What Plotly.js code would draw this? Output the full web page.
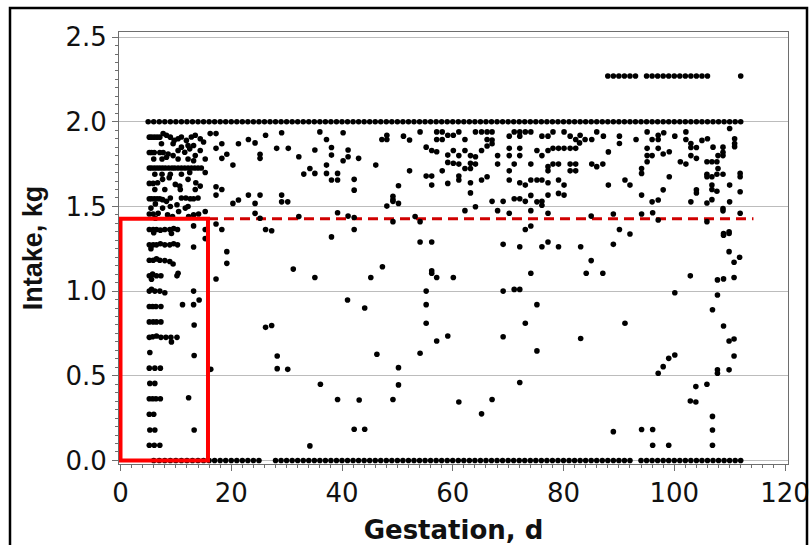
<!DOCTYPE html>
<html>
<head>
<meta charset="utf-8">
<script src="https://cdn.plot.ly/plotly-3.0.1.min.js"></script>
<style>
html,body{margin:0;padding:0;background:#fff;}
#chart{width:811px;height:545px;}
</style>
</head>
<body>
<div id="chart"></div>
<script>
// ---------- DATA ----------
// Days with intake of 2.0 kg
const rowTwoDays = [5,6,7,8,9,10,11,12,13,14,15,16,17,18,19,20,21,22,23,24,25,26,27,28,29,30,31,32,33,34,35,36,37,38,39,40,41,42,43,44,45,46,47,48,49,50,51,52,53,54,55,56,57,58,59,60,61,62,63,64,65,66,67,68,69,70,71,72,73,74,75,76,77,78,79,80,81,82,83,84,85,86,87,88,89,90,91,92,93,94,95,96,97,98,99,100,101,102,103,104,105,106,107,108,109,110,111,112];
const rowTwoIntake = 2.0;
// Days with intake of 0 kg
const rowZeroDays = [6,7,8,9,10,11,12,13,14,15,16,17,18,19,20,21,22,23,24,25,28,29,30,31,32,33,34,35,36,37,38,39,40,41,42,43,44,45,46,47,48,49,50,51,52,53,54,55,56,57,58,59,60,61,62,63,64,65,66,67,68,69,70,71,72,73,74,75,76,77,78,79,80,81,82,83,84,85,86,87,88,89,90,91,92,94,95,96,97,98,99,100,101,102,103,104,105,106,107,108,109,110,111,112];
const rowZeroIntake = 0.0;
// Days with intake above 2.0 kg
const rowHighDays = [88,89,90,91,92,93,95,96,97,98,99,100,101,102,103,104,105,106,112];
const rowHighIntake = 2.27;

// Early gestation column (day, kg)
const earlyPoints = [
 [5.2,0.09],[6.1,0.09],[7.1,0.09],
 [5.3,0.18],[6.2,0.18],[13.3,0.18],
 [5.2,0.273],[6.0,0.273],
 [5.2,0.364],[5.8,0.364],[6.4,0.364],[7.2,0.364],[12.3,0.37],
 [5.3,0.455],[6.2,0.455],
 [5.2,0.545],[6.2,0.545],[7.2,0.545],
 [5.3,0.637],[13.3,0.62],
 [5.2,0.727],[5.8,0.73],[6.5,0.735],[7.3,0.727],[8.2,0.727],[9.1,0.727],[9.2,0.70],[10.2,0.727],
 [5.2,0.818],[5.9,0.818],[6.5,0.818],[7.3,0.818],[13.3,0.80],
 [5.2,0.909],[5.8,0.909],[6.4,0.909],[7.3,0.909],[11.2,0.92],[13.2,0.92],[14.2,0.947],
 [5.2,1.0],[5.6,1.01],[6.2,1.0],[7.1,1.0],[8.0,0.99],[13.2,1.0],
 [5.2,1.091],[5.8,1.10],[6.5,1.091],[7.3,1.091],[5.6,1.07],[10.4,1.105],[10.2,1.09],
 [5.2,1.182],[5.9,1.182],[6.5,1.19],[7.1,1.182],[8.0,1.18],[8.9,1.175],[9.5,1.16],
 [5.2,1.273],[5.9,1.273],[6.5,1.273],[7.2,1.28],[8.0,1.273],[8.9,1.273],[9.6,1.28],[10.3,1.273],[13.2,1.26],[5.5,1.25],
 [5.2,1.364],[5.9,1.364],[6.5,1.364],[7.2,1.36],[8.0,1.364],[8.9,1.364],[9.6,1.37],[10.3,1.364],[9.2,1.34],[13.2,1.385],[15.3,1.364],[15.3,1.31],[6.0,1.345],
 [5.2,1.455],[5.9,1.455],[6.8,1.46],[7.6,1.49],[8.5,1.45],[9.4,1.44],[10.5,1.47],[11.7,1.49],[12.3,1.44],[13.2,1.45],[14.1,1.455],[15.3,1.47],[5.5,1.49],[6.3,1.43],
 [5.2,1.545],[5.6,1.545],[6.1,1.545],[6.6,1.545],[7.1,1.545],[7.6,1.54],[8.3,1.53],[9.0,1.55],[10.2,1.51],[11.0,1.55],[11.8,1.55],[12.6,1.545],[13.2,1.545],[14.0,1.55],[9.0,1.50],[12.2,1.50],[6.3,1.515],
 [5.2,1.636],[5.9,1.636],[6.7,1.64],[7.6,1.66],[8.8,1.67],[9.9,1.63],[10.7,1.62],[12.2,1.66],[13.6,1.64],[14.4,1.62],[6.2,1.60],[8.0,1.60],[10.8,1.60],[13.5,1.60],
 [5.2,1.727],[5.6,1.727],[6.1,1.727],[6.6,1.727],[7.1,1.727],[7.6,1.727],[8.1,1.727],[8.7,1.727],[9.3,1.727],[9.8,1.727],[10.4,1.727],[11.0,1.727],[11.6,1.727],[12.2,1.727],[12.8,1.727],[13.4,1.727],[14.0,1.727],[14.6,1.727],[6.2,1.69],[7.5,1.69],[9.0,1.69],[11.0,1.69],[12.5,1.70],[15.3,1.70],
 [5.2,1.818],[5.6,1.818],[6.1,1.818],[7.1,1.818],[7.7,1.818],[8.6,1.81],[9.5,1.80],[10.4,1.83],[11.0,1.85],[11.6,1.82],[12.5,1.84],[13.5,1.80],[14.4,1.83],[15.3,1.78],[6.0,1.78],[7.5,1.78],[8.3,1.79],[10.4,1.78],[12.2,1.78],[13.2,1.77],
 [5.2,1.909],[5.6,1.909],[6.1,1.909],[6.6,1.909],[7.1,1.909],[7.7,1.93],[8.3,1.92],[9.0,1.909],[9.7,1.89],[10.4,1.90],[11.0,1.91],[11.9,1.89],[12.8,1.91],[13.5,1.92],[14.4,1.90],[15.0,1.88],[16.2,1.93],[7.4,1.87],[9.5,1.87],[12.2,1.86],[13.2,1.86]
];

// Upper band, mid and late gestation (day, kg)
const upperPoints = [
 [17.25,1.93],[29.1,1.935],[36.0,1.94],[40.2,1.935],[26.2,1.92],[23.1,1.895],[24.3,1.875],[21.3,1.87],[18.3,1.87],[17.25,1.843],[19.2,1.808],[18.3,1.784],[20.3,1.744],[25.2,1.808],[25.2,1.784],[28.2,1.843],[30.3,1.843],[32.2,1.793],
 [37.2,1.895],[38.1,1.848],[38.1,1.803],[35.1,1.833],[41.1,1.833],[41.1,1.793],[40.2,1.77],[43.0,1.784],[37.2,1.744],[37.2,1.695],[38.1,1.656],[39.2,1.695],[39.2,1.656],[34.2,1.724],[33.1,1.691],[35.1,1.695],[42.2,1.66],[42.2,1.596],
 [17.25,1.616],[18.3,1.60],[17.25,1.567],[20.3,1.518],[21.3,1.538],[23.1,1.567],[25.2,1.567],[24.3,1.518],[29.1,1.567],[29.1,1.527],[30.2,1.527],[24.3,1.459],[25.2,1.43],[32.2,1.44],[39.2,1.463],[41.1,1.443],[42.2,1.435],[46.1,1.744],
 [47.2,1.895],[48.1,1.92],[48.1,1.895],[51.1,1.915],[52.2,1.892],[54.1,1.94],[52.2,1.71],[50.2,1.622],[49.2,1.56],[49.2,1.54],[50.2,1.518],[48.1,1.502],[49.2,1.53],
 [55.2,1.85],[56.2,1.83],[57.1,1.823],[55.2,1.679],[56.2,1.679],[56.2,1.626],[58.1,1.71],[59.1,1.636],[57.1,1.94],[58.1,1.94],[57.1,1.895],[58.1,1.895],[59.1,1.92],[60.1,1.92],[61.1,1.94],[62.2,1.895],
 [59.1,1.803],[59.1,1.76],[60.1,1.755],[61.1,1.75],[60.1,1.83],[61.1,1.80],[62.2,1.83],[63.2,1.80],[64.1,1.793],[61.1,1.679],[61.1,1.656],[62.2,1.724],[63.2,1.755],[64.1,1.75],[63.2,1.724],[63.2,1.64],[63.2,1.58],
 [64.1,1.94],[65.2,1.94],[66.2,1.94],[67.1,1.94],[66.2,1.895],[67.1,1.892],[67.1,1.87],[65.2,1.83],[66.2,1.857],[65.2,1.656],[66.2,1.675],
 [62.2,1.475],[64.1,1.498],[67.1,1.53],[68.1,1.475],[69.1,1.53],[70.2,1.46],[71.1,1.545],[72.1,1.545],[73.1,1.53],[74.1,1.565],[74.1,1.475],[76.1,1.53],[77.2,1.46],
 [68.1,1.80],[68.1,1.75],[70.2,1.915],[70.2,1.843],[70.2,1.80],[70.2,1.71],[71.1,1.94],[72.1,1.94],[73.1,1.94],[74.1,1.94],[72.1,1.915],[72.1,1.843],[72.1,1.80],[71.1,1.75],[74.1,1.75],
 [70.2,1.656],[72.1,1.64],[73.1,1.626],[74.1,1.656],[75.2,1.656],[76.1,1.656],[77.2,1.64],[75.2,1.83],[76.1,1.915],[77.2,1.915],[76.1,1.80],[77.2,1.83],
 [78.1,1.843],[79.1,1.843],[80.1,1.843],[81.2,1.843],[82.2,1.843],[77.2,1.735],[77.2,1.71],[78.1,1.75],[79.1,1.75],[81.2,1.75],[82.2,1.75],[78.1,1.94],[80.1,1.94],[81.2,1.915],[82.2,1.895],
 [79.1,1.656],[80.1,1.626],[79.1,1.577],[80.1,1.567],[77.2,1.567],[75.2,1.527],[76.1,1.507],[81.2,1.71],[82.2,1.71],
 [83.0,1.92],[82.9,1.875],[83.9,1.895],[85.1,1.895],[86.0,1.94],[87.2,1.915],[85.1,1.75],[86.0,1.735],[87.1,1.75],[88.1,1.822],[88.1,1.626],[90.1,1.915],[90.1,1.872],[91.1,1.656],[92.0,1.626],[93.1,1.895],
 [95.1,1.94],[96.0,1.895],[97.1,1.92],[97.1,1.895],[98.1,1.935],[95.1,1.843],[95.1,1.80],[96.0,1.80],[97.1,1.843],[99.1,1.823],[98.0,1.81],[94.1,1.724],[94.1,1.695],[100.1,1.915],[102.1,1.94],[102.1,1.895],[99.1,1.675],[95.1,1.764],[98.0,1.598],
 [94.1,1.567],[96.0,1.527],[97.1,1.538],[101.1,1.764],[102.1,1.75],[103.0,1.872],[103.0,1.848],[104.0,1.848],[105.0,1.89],[106.0,1.90],[103.0,1.80],[104.0,1.784],
 [107.0,1.85],[107.9,1.80],[108.8,1.85],[108.8,1.82],[108.8,1.80],[105.9,1.764],[106.8,1.764],[107.7,1.764],[107.9,1.724],[105.9,1.69],[105.9,1.675],[106.8,1.675],[107.7,1.69],[108.8,1.69],
 [110.0,1.96],[110.9,1.90],[110.9,1.872],[110.9,1.853],[111.9,1.695],[111.9,1.675],[111.9,1.587],[110.0,1.626],[106.8,1.626],[106.8,1.60],[106.8,1.54],[105.9,1.52],[107.7,1.59],[104.0,1.598],[104.0,1.58],[103.0,1.527],
 [108.8,1.488],[108.8,1.474],[110.0,1.527],[111.9,1.46],[89.0,1.455],[94.1,1.455],[96.1,1.463],[85.0,1.443],[97.1,1.42],[105.9,1.41]
];

// Scattered lower intakes, mid and late gestation (day, kg)
const lowerPoints = [
 [16.3,0.538],[17.25,1.396],[18.3,1.364],[19.2,1.233],[19.2,1.164],[17.25,1.071],[26.2,1.364],[27.3,1.356],[26.2,0.786],[27.3,0.797],[28.3,0.617],[28.3,0.542],[30.2,0.538],[31.2,1.13],[34.2,0.086],[35.1,1.08],[36.1,0.45],[38.1,1.32],[39.2,0.36],[41.0,0.947],
 [42.2,1.364],[44.1,0.90],[45.2,1.08],[47.3,1.144],[46.3,0.627],[43.1,0.357],[42.2,0.184],[44.1,0.184],[49.2,0.36],[50.2,0.446],[50.2,0.548],[49.2,1.41],[53.2,1.44],[54.1,1.41],[54.1,0.633],[54.1,1.29],[56.2,1.29],
 [56.2,1.12],[56.2,1.105],[57.1,1.08],[60.1,1.08],[55.2,1.0],[55.2,0.92],[55.2,0.81],[57.1,0.705],[59.1,0.735],[61.1,0.345],[65.2,0.275],[67.1,0.36],[69.1,1.0],[71.1,1.01],[72.1,1.01],[69.1,0.73],[69.1,1.276],[72.1,1.262],[72.1,0.46],
 [73.1,0.81],[74.1,1.105],[75.2,0.92],[75.2,0.647],[73.1,1.364],[74.1,1.384],[76.1,1.262],[77.2,1.29],[79.1,1.262],
 [83.1,1.262],[83.1,0.72],[84.1,1.105],[85.0,1.18],[87.1,1.105],[89.0,1.276],[89.0,0.17],[90.1,1.364],[92.0,1.337],[91.1,0.81],[94.1,0.183],[96.1,0.183],[96.1,0.09],[99.0,0.09],
 [97.1,0.515],[98.0,0.554],[99.0,0.603],[100.1,0.623],[100.1,0.99],[102.9,1.09],[102.9,0.351],[103.9,0.345],[103.9,0.436],[105.9,0.45],
 [106.9,0.26],[106.9,0.18],[106.9,0.09],[106.9,0.89],[107.8,0.977],[107.8,1.066],[108.9,1.072],[110.8,1.08],[107.8,0.535],[107.8,0.515],[109.9,0.535],[108.9,0.794],[109.9,0.705],[110.8,0.717],[110.8,0.617],
 [109.9,1.233],[110.8,1.17],[111.8,1.20],[108.9,1.34],[108.9,1.33],[109.9,1.35],[109.9,1.34]
];

// Axis ticks
const xTickVals = [0,20,40,60,80,100,120];
const xTickText = ['0','20','40','60','80','100','120'];
const yTickVals = [0,0.5,1.0,1.5,2.0,2.5];
const yTickText = ['0.0','0.5','1.0','1.5','2.0','2.5'];

// Reference marks
const refIntake = 1.427;      // dashed reference intake line / box top
const boxStartDay = 0;
const boxEndDay = 15.8;       // end of highlighted early period
const lineEndDay = 114.3;

// ---------- BUILD ----------
const markerStyle = {color:'#000', size:5.6, line:{width:0}};
function rowTrace(days, level){
  return {type:'scatter', mode:'markers', x:days, y:days.map(()=>level), marker:markerStyle, hoverinfo:'x+y', cliponaxis:false};
}
function pairTrace(pairs){
  return {type:'scatter', mode:'markers', x:pairs.map(p=>p[0]), y:pairs.map(p=>p[1]), marker:markerStyle, hoverinfo:'x+y'};
}
const data = [
  rowTrace(rowTwoDays, rowTwoIntake),
  rowTrace(rowZeroDays, rowZeroIntake),
  rowTrace(rowHighDays, rowHighIntake),
  pairTrace(earlyPoints),
  pairTrace(upperPoints),
  pairTrace(lowerPoints)
];

const L = 119, R = 788, T = 32, B = 464, W = 811, H = 545;
const pw = R - L, ph = B - T;
function px2paperX(px){ return (px - L)/pw; }
function px2paperY(py){ return (B - py)/ph; }

const axisLine = '#6e6e6e';
const layout = {
  width: W, height: H,
  margin: {l:L, r:W-R, t:T, b:H-B, pad:0},
  paper_bgcolor:'#ffffff', plot_bgcolor:'#ffffff',
  showlegend:false,
  font:{family:'DejaVu Sans, sans-serif', color:'#111'},
  xaxis:{
    range:[-0.27,120.54], tickmode:'array', tickvals:xTickVals, ticktext:xTickText,
    ticks:'outside', ticklen:6, tickwidth:1, tickcolor:axisLine,
    showline:true, linecolor:axisLine, linewidth:1, mirror:true,
    showgrid:false, zeroline:false,
    tickfont:{size:26, family:'DejaVu Sans, sans-serif', color:'#111'},
    minor:{tick0:0, dtick:2, ticks:'outside', ticklen:3, tickcolor:axisLine, showgrid:false},
    title:{text:'Gestation, d', standoff:15, font:{family:'DejaVu Sans, sans-serif', size:26, weight:'bold', color:'#111'}}
  },
  yaxis:{
    range:[-0.021,2.53], tickmode:'array', tickvals:yTickVals, ticktext:yTickText,
    ticks:'outside', ticklen:6, tickwidth:1, tickcolor:axisLine,
    showline:true, linecolor:axisLine, linewidth:1, mirror:true,
    showgrid:true, gridcolor:'#bcbcbc', gridwidth:1, zeroline:false,
    tickfont:{size:26, family:'DejaVu Sans, sans-serif', color:'#111'},
    minor:{tick0:0, dtick:0.05, ticks:'outside', ticklen:3, tickcolor:axisLine, showgrid:false},
    title:{text:'Intake, kg', standoff:14, font:{family:'Liberation Sans, Arial, sans-serif', size:27, weight:'bold', color:'#111'}}
  },
  shapes:[
    {type:'line', xref:'x', yref:'y', x0:boxEndDay, x1:lineEndDay, y0:refIntake, y1:refIntake, layer:'below', line:{color:'#d00000', width:3, dash:'10px,6px'}},
    {type:'rect', xref:'x', yref:'y', x0:boxStartDay, x1:boxEndDay, y0:0, y1:refIntake, layer:'above', line:{color:'#ff0000', width:4}},
    {type:'rect', xref:'paper', yref:'paper', x0:px2paperX(10), x1:px2paperX(807), y0:px2paperY(556), y1:px2paperY(8), layer:'above', line:{color:'#000', width:2.5}}
  ]
};

Plotly.newPlot('chart', data, layout, {staticPlot:true, displayModeBar:false});
</script>
</body>
</html>
